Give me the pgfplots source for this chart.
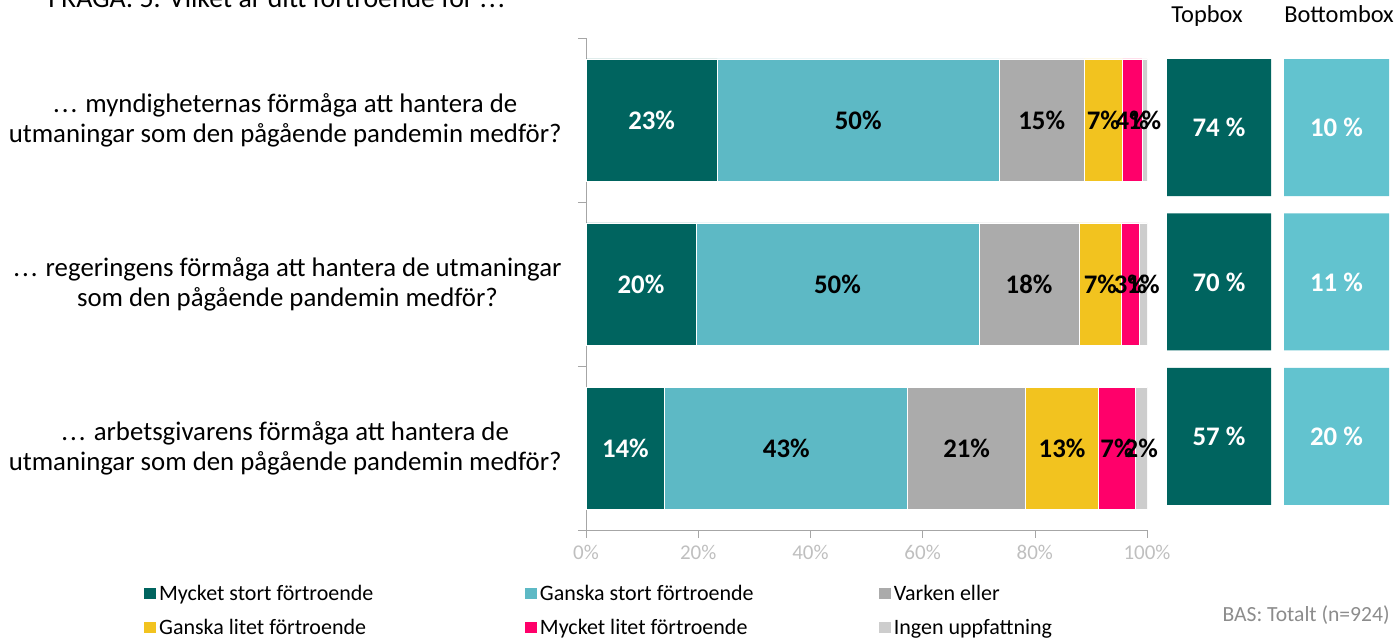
\documentclass[border=0pt]{standalone}
\usepackage{pgfplots}
\pgfplotsset{compat=1.18}
\usepackage{pgfplotstable}
\usepackage{fontspec}
\setmainfont{Carlito}
\definecolor{c1}{HTML}{00645F}
\definecolor{c2}{HTML}{5DB9C5}
\definecolor{c3}{HTML}{ABABAB}
\definecolor{c4}{HTML}{F2C31F}
\definecolor{c5}{HTML}{FF006A}
\definecolor{c6}{HTML}{CDCDCD}
\definecolor{c7}{HTML}{62C3CF}
\definecolor{axgrey}{HTML}{A6A6A6}
\definecolor{tickgrey}{HTML}{BFBFBF}
\definecolor{basgrey}{HTML}{8C8C8C}
\newcommand\ddd{.\kern1pt.\kern1pt.}

\pgfplotstableread{
y a b c d e f la lb lc ld le lf
0 14.05 43.3 21.0 13.0 6.6 2.05 14 43 21 13 7 2
1 19.6 50.45 17.85 7.6 3.1 1.4 20 50 18 7 3 1
2 23.4 50.25 15.15 6.85 3.45 0.9 23 50 15 7 4 1
}\maindata
\pgfplotstableread{
y top gap bot ltop lbot
0 104 13 105 57 20
1 104 13 105 70 11
2 104 13 105 74 10
}\boxdata

\begin{document}
\begin{tikzpicture}[x=1pt,y=1pt]
\useasboundingbox (0,0) rectangle (698,318.5);
\begin{axis}[
  at={(293pt,53.5pt)}, anchor=south west,
  scale only axis, width=280.5pt, height=246pt,
  xbar stacked, bar width=61pt,
  xmin=0, xmax=100, ymin=-0.5, ymax=2.5,
  axis lines*=left,
  axis line style={axgrey},
  tick align=outside,
  major tick length=4pt,
  /pgf/number format/assume math mode=true,
  xtick={0,20,40,60,80,100},
  xticklabel={\pgfmathprintnumber{\tick}\%},
  xticklabel style={font=\fontsize{10.5}{12}\selectfont, text=tickgrey},
  xtick style={draw=axgrey},
  ytick={-0.5,0.5,1.5,2.5}, yticklabels={},
  ytick style={draw=axgrey},
  extra y ticks={0,1,2},
  extra y tick labels={{\ddd{} arbetsgivarens förmåga att hantera de\\utmaningar som den pågående pandemin medför?},{\ddd{} regeringens förmåga att hantera de utmaningar\\som den pågående pandemin medför?},{\ddd{} myndigheternas förmåga att hantera de\\utmaningar som den pågående pandemin medför?}},
  extra y tick style={ytick style={draw=none}},
  yticklabel style={align=center, font=\fontsize{13.4}{15}\selectfont, text=black, inner sep=0pt, xshift=-8pt},
  legend columns=3,
  legend cell align=left,
  legend style={at={(-0.7897,-0.1027)}, anchor=north west, draw=none, fill=none, inner sep=0pt, font=\fontsize{11}{12}\selectfont, row sep=4pt, column sep=0pt, nodes={inner xsep=1pt}},
  legend image code/.code={\fill[#1] (0pt,-2.6pt) rectangle (6.5pt,3.4pt);},
]
\addplot[fill=c1, draw=white, line width=0.4pt] table[x=a,y=y]{\maindata};
\addlegendentry{\makebox[181.5pt][l]{Mycket stort förtroende}}
\addplot[fill=c2, draw=white, line width=0.4pt] table[x=b,y=y]{\maindata};
\addlegendentry{\makebox[168pt][l]{Ganska stort förtroende}}
\addplot[fill=c3, draw=white, line width=0.4pt] table[x=c,y=y]{\maindata};
\addlegendentry{\makebox[80pt][l]{Varken eller}}
\addplot[fill=c4, draw=white, line width=0.4pt] table[x=d,y=y]{\maindata};
\addlegendentry{\makebox[181.5pt][l]{Ganska litet förtroende}}
\addplot[fill=c5, draw=white, line width=0.4pt] table[x=e,y=y]{\maindata};
\addlegendentry{\makebox[168pt][l]{Mycket litet förtroende}}
\addplot[fill=c6, draw=white, line width=0.4pt] table[x=f,y=y]{\maindata};
\addlegendentry{\makebox[80pt][l]{Ingen uppfattning}}
\end{axis}

% segment labels, centred in each segment
\begin{axis}[
  at={(293pt,53.5pt)}, anchor=south west,
  scale only axis, width=280.5pt, height=246pt,
  xmin=0, xmax=100, ymin=-0.5, ymax=2.5,
  hide axis,
  point meta=explicit symbolic,
  nodes near coords={\pgfplotspointmeta\%},
  every node near coord/.append style={anchor=center, inner sep=0pt, font=\bfseries\fontsize{13.4}{15}\selectfont, text=black},
]
\addplot[draw=none, mark=none, every node near coord/.append style={text=white}] table[x expr={\thisrow{a}/2}, y=y, meta=la]{\maindata};
\addplot[draw=none, mark=none] table[x expr={\thisrow{a}+\thisrow{b}/2}, y=y, meta=lb]{\maindata};
\addplot[draw=none, mark=none] table[x expr={\thisrow{a}+\thisrow{b}+\thisrow{c}/2}, y=y, meta=lc]{\maindata};
\addplot[draw=none, mark=none] table[x expr={\thisrow{a}+\thisrow{b}+\thisrow{c}+\thisrow{d}/2}, y=y, meta=ld]{\maindata};
\addplot[draw=none, mark=none] table[x expr={\thisrow{a}+\thisrow{b}+\thisrow{c}+\thisrow{d}+\thisrow{e}/2}, y=y, meta=le]{\maindata};
\addplot[draw=none, mark=none] table[x expr={\thisrow{a}+\thisrow{b}+\thisrow{c}+\thisrow{d}+\thisrow{e}+\thisrow{f}/2}, y=y, meta=lf]{\maindata};
\end{axis}

% Topbox / Bottombox
\begin{axis}[
  at={(583.5pt,61.8pt)}, anchor=south west,
  scale only axis, width=111pt, height=231.4pt,
  xbar stacked, bar width=68.5pt,
  xmin=0, xmax=222, ymin=-0.5, ymax=2.5,
  hide axis,
]
\addplot[fill=c1, draw=none] table[x=top,y=y]{\boxdata};
\addplot[draw=none, fill=none] table[x=gap,y=y]{\boxdata};
\addplot[fill=c7, draw=none] table[x=bot,y=y]{\boxdata};
\end{axis}
\begin{axis}[
  at={(583.5pt,61.8pt)}, anchor=south west,
  scale only axis, width=111pt, height=231.4pt,
  xmin=0, xmax=222, ymin=-0.5, ymax=2.5,
  hide axis,
  point meta=explicit symbolic,
  nodes near coords={\pgfplotspointmeta\ \%},
  every node near coord/.append style={anchor=center, inner sep=0pt, text=white, font=\bfseries\fontsize{13.4}{15}\selectfont},
]
\addplot[draw=none, mark=none] table[x expr={\thisrow{top}/2}, y=y, meta=ltop]{\boxdata};
\addplot[draw=none, mark=none] table[x expr={\thisrow{top}+\thisrow{gap}+\thisrow{bot}/2}, y=y, meta=lbot]{\boxdata};
\end{axis}

\node[anchor=base west, inner sep=0pt, font=\fontsize{13.9}{15}\selectfont] at (24,314.5) {FRÅGA: 5. Vilket är ditt förtroende för \ddd};
\node[anchor=base, inner sep=0pt, font=\fontsize{12.2}{14}\selectfont] at (603.5,307) {Topbox};
\node[anchor=base, inner sep=0pt, font=\fontsize{12.2}{14}\selectfont] at (669.5,307) {Bottombox};
\node[anchor=base east, inner sep=0pt, font=\fontsize{10.8}{12}\selectfont, text=basgrey] at (695,8) {BAS: Totalt (n=924)};
\end{tikzpicture}
\end{document}
